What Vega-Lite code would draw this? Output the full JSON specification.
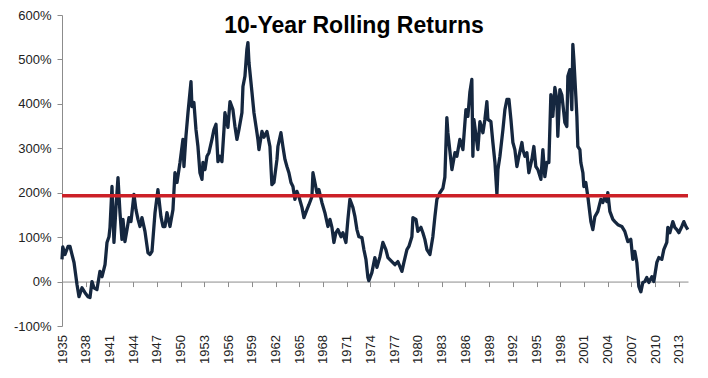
{
  "$schema": "https://vega.github.io/schema/vega-lite/v6.json",
  "width": 626,
  "height": 311,
  "autosize": {"type": "none"},
  "padding": {"left": 62, "top": 15, "right": 20, "bottom": 52},
  "background": "white",
  "title": {"text": "10-Year Rolling Returns", "font": "Liberation Sans", "fontSize": 23, "fontWeight": "bold", "color": "#000000", "anchor": "middle", "frame": "group", "offset": -29, "dx": -21},
  "config": {
    "view": {"stroke": null},
    "axis": {"grid": false, "labelFont": "Liberation Sans", "labelFontSize": 13, "labelColor": "#222222", "domainColor": "#8c8c8c", "tickColor": "#8c8c8c", "labelFlush": false, "labelOverlap": false}
  },
  "layer": [
    {
      "data": {"values": [
        {"year": 1935.00, "ret": 50}, {"year": 1935.10, "ret": 78}, {"year": 1935.38, "ret": 61}, {"year": 1935.76, "ret": 79},
        {"year": 1936.01, "ret": 79}, {"year": 1936.26, "ret": 61}, {"year": 1936.52, "ret": 43}, {"year": 1936.90, "ret": -7},
        {"year": 1937.15, "ret": -34}, {"year": 1937.53, "ret": -14}, {"year": 1937.91, "ret": -25}, {"year": 1938.29, "ret": -34},
        {"year": 1938.54, "ret": -36}, {"year": 1938.79, "ret": 0}, {"year": 1939.04, "ret": -14}, {"year": 1939.42, "ret": -18},
        {"year": 1939.80, "ret": 23}, {"year": 1940.06, "ret": 11}, {"year": 1940.44, "ret": 38}, {"year": 1940.69, "ret": 88},
        {"year": 1940.94, "ret": 101}, {"year": 1941.07, "ret": 122}, {"year": 1941.32, "ret": 214}, {"year": 1941.57, "ret": 88},
        {"year": 1941.83, "ret": 169}, {"year": 1942.08, "ret": 234}, {"year": 1942.33, "ret": 155}, {"year": 1942.58, "ret": 95},
        {"year": 1942.71, "ret": 140}, {"year": 1942.96, "ret": 90}, {"year": 1943.22, "ret": 117}, {"year": 1943.47, "ret": 144},
        {"year": 1943.72, "ret": 135}, {"year": 1944.10, "ret": 196}, {"year": 1944.35, "ret": 162}, {"year": 1944.61, "ret": 140},
        {"year": 1944.86, "ret": 124}, {"year": 1945.11, "ret": 144}, {"year": 1945.49, "ret": 113}, {"year": 1945.87, "ret": 65},
        {"year": 1946.12, "ret": 61}, {"year": 1946.38, "ret": 68}, {"year": 1946.76, "ret": 155}, {"year": 1947.13, "ret": 207},
        {"year": 1947.51, "ret": 146}, {"year": 1947.77, "ret": 124}, {"year": 1948.02, "ret": 124}, {"year": 1948.27, "ret": 155},
        {"year": 1948.65, "ret": 124}, {"year": 1949.03, "ret": 162}, {"year": 1949.28, "ret": 245}, {"year": 1949.54, "ret": 223},
        {"year": 1949.92, "ret": 268}, {"year": 1950.29, "ret": 320}, {"year": 1950.42, "ret": 259}, {"year": 1950.67, "ret": 327},
        {"year": 1950.93, "ret": 380}, {"year": 1951.31, "ret": 450}, {"year": 1951.43, "ret": 394}, {"year": 1951.68, "ret": 403},
        {"year": 1951.94, "ret": 342}, {"year": 1952.19, "ret": 304}, {"year": 1952.44, "ret": 245}, {"year": 1952.70, "ret": 230},
        {"year": 1952.82, "ret": 268}, {"year": 1953.08, "ret": 252}, {"year": 1953.33, "ret": 282}, {"year": 1953.58, "ret": 290},
        {"year": 1953.96, "ret": 320}, {"year": 1954.21, "ret": 342}, {"year": 1954.47, "ret": 354}, {"year": 1954.72, "ret": 270},
        {"year": 1954.97, "ret": 282}, {"year": 1955.22, "ret": 270}, {"year": 1955.48, "ret": 342}, {"year": 1955.60, "ret": 380},
        {"year": 1955.98, "ret": 347}, {"year": 1956.24, "ret": 405}, {"year": 1956.61, "ret": 387}, {"year": 1956.87, "ret": 349},
        {"year": 1957.12, "ret": 320}, {"year": 1957.37, "ret": 342}, {"year": 1957.75, "ret": 380}, {"year": 1957.88, "ret": 439},
        {"year": 1958.13, "ret": 462}, {"year": 1958.38, "ret": 523}, {"year": 1958.51, "ret": 538}, {"year": 1958.64, "ret": 493},
        {"year": 1959.02, "ret": 426}, {"year": 1959.27, "ret": 380}, {"year": 1959.65, "ret": 335}, {"year": 1959.77, "ret": 320},
        {"year": 1959.90, "ret": 297}, {"year": 1960.28, "ret": 338}, {"year": 1960.53, "ret": 325}, {"year": 1960.91, "ret": 338},
        {"year": 1961.29, "ret": 304}, {"year": 1961.54, "ret": 218}, {"year": 1961.80, "ret": 223}, {"year": 1962.18, "ret": 275},
        {"year": 1962.30, "ret": 304}, {"year": 1962.68, "ret": 335}, {"year": 1962.93, "ret": 304}, {"year": 1963.19, "ret": 275},
        {"year": 1963.44, "ret": 259}, {"year": 1963.69, "ret": 245}, {"year": 1963.95, "ret": 223}, {"year": 1964.20, "ret": 214},
        {"year": 1964.45, "ret": 185}, {"year": 1964.70, "ret": 203}, {"year": 1964.96, "ret": 191}, {"year": 1965.34, "ret": 167},
        {"year": 1965.59, "ret": 144}, {"year": 1965.97, "ret": 162}, {"year": 1966.22, "ret": 173}, {"year": 1966.60, "ret": 191},
        {"year": 1966.73, "ret": 245}, {"year": 1966.98, "ret": 223}, {"year": 1967.23, "ret": 200}, {"year": 1967.48, "ret": 207},
        {"year": 1967.86, "ret": 178}, {"year": 1968.24, "ret": 155}, {"year": 1968.62, "ret": 124}, {"year": 1968.88, "ret": 140},
        {"year": 1969.13, "ret": 122}, {"year": 1969.38, "ret": 88}, {"year": 1969.63, "ret": 110}, {"year": 1969.89, "ret": 117},
        {"year": 1970.27, "ret": 101}, {"year": 1970.52, "ret": 110}, {"year": 1970.90, "ret": 88}, {"year": 1971.15, "ret": 140},
        {"year": 1971.40, "ret": 185}, {"year": 1971.78, "ret": 167}, {"year": 1972.04, "ret": 146}, {"year": 1972.29, "ret": 117},
        {"year": 1972.54, "ret": 101}, {"year": 1972.92, "ret": 99}, {"year": 1973.17, "ret": 72}, {"year": 1973.43, "ret": 50},
        {"year": 1973.68, "ret": 9}, {"year": 1973.80, "ret": 2}, {"year": 1974.18, "ret": 20}, {"year": 1974.56, "ret": 54},
        {"year": 1974.82, "ret": 32}, {"year": 1975.20, "ret": 56}, {"year": 1975.57, "ret": 88}, {"year": 1975.95, "ret": 72},
        {"year": 1976.21, "ret": 54}, {"year": 1976.71, "ret": 45}, {"year": 1977.09, "ret": 38}, {"year": 1977.47, "ret": 45},
        {"year": 1977.98, "ret": 23}, {"year": 1978.23, "ret": 43}, {"year": 1978.61, "ret": 72}, {"year": 1978.86, "ret": 79},
        {"year": 1979.24, "ret": 101}, {"year": 1979.37, "ret": 144}, {"year": 1979.75, "ret": 140}, {"year": 1980.00, "ret": 113},
        {"year": 1980.38, "ret": 122}, {"year": 1980.63, "ret": 110}, {"year": 1980.88, "ret": 95}, {"year": 1981.14, "ret": 72},
        {"year": 1981.52, "ret": 61}, {"year": 1981.89, "ret": 101}, {"year": 1982.15, "ret": 146}, {"year": 1982.40, "ret": 185},
        {"year": 1982.78, "ret": 200}, {"year": 1983.16, "ret": 210}, {"year": 1983.41, "ret": 235}, {"year": 1983.66, "ret": 369},
        {"year": 1983.79, "ret": 335}, {"year": 1984.30, "ret": 252}, {"year": 1984.68, "ret": 290}, {"year": 1984.93, "ret": 282},
        {"year": 1985.31, "ret": 320}, {"year": 1985.69, "ret": 297}, {"year": 1986.07, "ret": 387}, {"year": 1986.32, "ret": 372},
        {"year": 1986.57, "ret": 426}, {"year": 1986.82, "ret": 455}, {"year": 1986.95, "ret": 282}, {"year": 1987.08, "ret": 365},
        {"year": 1987.46, "ret": 313}, {"year": 1987.58, "ret": 297}, {"year": 1987.84, "ret": 360}, {"year": 1988.22, "ret": 335},
        {"year": 1988.47, "ret": 365}, {"year": 1988.72, "ret": 405}, {"year": 1988.85, "ret": 365}, {"year": 1989.23, "ret": 360},
        {"year": 1989.48, "ret": 313}, {"year": 1989.74, "ret": 268}, {"year": 1989.99, "ret": 196}, {"year": 1990.12, "ret": 252},
        {"year": 1990.37, "ret": 282}, {"year": 1990.75, "ret": 342}, {"year": 1991.00, "ret": 387}, {"year": 1991.26, "ret": 410},
        {"year": 1991.51, "ret": 410}, {"year": 1991.76, "ret": 365}, {"year": 1992.01, "ret": 313}, {"year": 1992.26, "ret": 297},
        {"year": 1992.52, "ret": 259}, {"year": 1992.77, "ret": 282}, {"year": 1993.15, "ret": 313}, {"year": 1993.27, "ret": 297},
        {"year": 1993.53, "ret": 282}, {"year": 1993.78, "ret": 290}, {"year": 1994.03, "ret": 245}, {"year": 1994.41, "ret": 275},
        {"year": 1994.66, "ret": 304}, {"year": 1994.91, "ret": 259}, {"year": 1995.17, "ret": 252}, {"year": 1995.55, "ret": 230},
        {"year": 1995.80, "ret": 297}, {"year": 1996.05, "ret": 236}, {"year": 1996.30, "ret": 268}, {"year": 1996.56, "ret": 268},
        {"year": 1996.81, "ret": 421}, {"year": 1997.06, "ret": 372}, {"year": 1997.32, "ret": 437}, {"year": 1997.57, "ret": 410},
        {"year": 1997.69, "ret": 327}, {"year": 1997.95, "ret": 432}, {"year": 1998.20, "ret": 420}, {"year": 1998.45, "ret": 380},
        {"year": 1998.58, "ret": 358}, {"year": 1998.83, "ret": 349}, {"year": 1998.96, "ret": 462}, {"year": 1999.21, "ret": 477},
        {"year": 1999.46, "ret": 387}, {"year": 1999.59, "ret": 534}, {"year": 1999.72, "ret": 500}, {"year": 1999.97, "ret": 417},
        {"year": 2000.10, "ret": 372}, {"year": 2000.22, "ret": 304}, {"year": 2000.48, "ret": 297}, {"year": 2000.60, "ret": 268},
        {"year": 2000.86, "ret": 245}, {"year": 2000.98, "ret": 214}, {"year": 2001.23, "ret": 223}, {"year": 2001.49, "ret": 191},
        {"year": 2001.87, "ret": 135}, {"year": 2002.12, "ret": 117}, {"year": 2002.37, "ret": 146}, {"year": 2002.75, "ret": 158},
        {"year": 2003.13, "ret": 185}, {"year": 2003.38, "ret": 178}, {"year": 2003.63, "ret": 191}, {"year": 2003.89, "ret": 180},
        {"year": 2004.01, "ret": 200}, {"year": 2004.27, "ret": 158}, {"year": 2004.65, "ret": 140}, {"year": 2004.90, "ret": 135},
        {"year": 2005.28, "ret": 128}, {"year": 2005.78, "ret": 124}, {"year": 2006.16, "ret": 113}, {"year": 2006.54, "ret": 90},
        {"year": 2006.92, "ret": 95}, {"year": 2007.17, "ret": 50}, {"year": 2007.42, "ret": 68}, {"year": 2007.68, "ret": 43},
        {"year": 2007.93, "ret": -11}, {"year": 2008.19, "ret": -23}, {"year": 2008.44, "ret": -2}, {"year": 2008.69, "ret": 0},
        {"year": 2008.94, "ret": 9}, {"year": 2009.20, "ret": -2}, {"year": 2009.58, "ret": 11}, {"year": 2009.83, "ret": 0},
        {"year": 2010.21, "ret": 43}, {"year": 2010.46, "ret": 54}, {"year": 2010.84, "ret": 50}, {"year": 2011.09, "ret": 72},
        {"year": 2011.47, "ret": 88}, {"year": 2011.60, "ret": 122}, {"year": 2011.85, "ret": 110}, {"year": 2012.23, "ret": 135},
        {"year": 2012.48, "ret": 122}, {"year": 2012.74, "ret": 117}, {"year": 2012.99, "ret": 110}, {"year": 2013.37, "ret": 124},
        {"year": 2013.62, "ret": 135}, {"year": 2013.88, "ret": 124}, {"year": 2014.13, "ret": 117}
      ]},
      "mark": {"type": "line", "color": "#15273f", "strokeWidth": 3.3, "strokeJoin": "round"},
      "encoding": {
        "x": {"field": "year", "type": "quantitative",
          "scale": {"domain": [1935, 2014.15], "nice": false, "zero": false},
          "axis": {"title": null, "values": [1935, 1938, 1941, 1944, 1947, 1950, 1953, 1956, 1959, 1962, 1965, 1968, 1971, 1974, 1977, 1980, 1983, 1986, 1989, 1992, 1995, 1998, 2001, 2004, 2007, 2010, 2013],
            "format": "d", "labelAngle": -90, "labelAlign": "right", "labelBaseline": "middle", "offset": -44.43, "tickSize": 5, "labelPadding": 48}},
        "y": {"field": "ret", "type": "quantitative",
          "scale": {"domain": [-100, 600], "nice": false, "zero": false},
          "axis": {"title": null, "values": [-100, 0, 100, 200, 300, 400, 500, 600], "labelExpr": "datum.value + '%'", "tickSize": 5, "labelPadding": 6}}
      }
    },
    {
      "data": {"values": [{"level": 193}]},
      "mark": {"type": "rule", "color": "#cc2027", "strokeWidth": 3.5},
      "encoding": {"y": {"field": "level", "type": "quantitative"}}
    }
  ]
}
